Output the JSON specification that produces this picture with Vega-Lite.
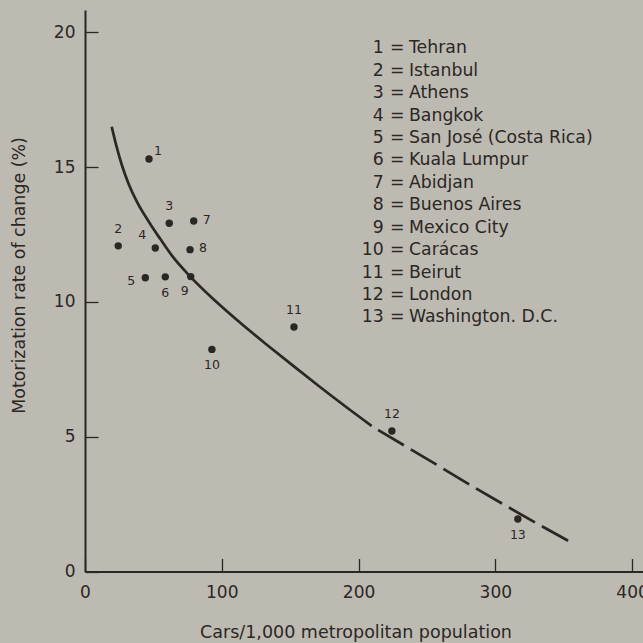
{
  "$schema": "https://vega.github.io/schema/vega-lite/v6.json",
  "width": 558,
  "height": 561.5,
  "autosize": {"type": "none"},
  "padding": {"left": 85, "top": 10, "right": 0, "bottom": 71.5},
  "background": "#bdbab2",
  "config": {
    "view": {"stroke": null},
    "font": "DejaVu Sans",
    "text": {"font": "DejaVu Sans", "color": "#2b2724"}
  },
  "datasets": {
    "cities": [
      {"id": 1, "city": "Tehran", "cars": 46.8, "rate": 15.3},
      {"id": 2, "city": "Istanbul", "cars": 24.3, "rate": 12.08},
      {"id": 3, "city": "Athens", "cars": 61.6, "rate": 12.92},
      {"id": 4, "city": "Bangkok", "cars": 51.4, "rate": 12.0},
      {"id": 5, "city": "San José (Costa Rica)", "cars": 44.1, "rate": 10.9},
      {"id": 6, "city": "Kuala Lumpur", "cars": 58.7, "rate": 10.93},
      {"id": 7, "city": "Abidjan", "cars": 79.5, "rate": 13.0},
      {"id": 8, "city": "Buenos Aires", "cars": 76.8, "rate": 11.94},
      {"id": 9, "city": "Mexico City", "cars": 77.3, "rate": 10.94},
      {"id": 10, "city": "Carácas", "cars": 92.8, "rate": 8.24},
      {"id": 11, "city": "Beirut", "cars": 152.8, "rate": 9.07},
      {"id": 12, "city": "London", "cars": 224.4, "rate": 5.21},
      {"id": 13, "city": "Washington. D.C.", "cars": 316.5, "rate": 1.95}
    ],
    "trend_fitted": [
      {"cars": 19.5, "rate": 16.5},
      {"cars": 23, "rate": 15.78},
      {"cars": 27, "rate": 15.07},
      {"cars": 32, "rate": 14.37},
      {"cars": 38, "rate": 13.71},
      {"cars": 47, "rate": 12.95},
      {"cars": 55, "rate": 12.34},
      {"cars": 64, "rate": 11.69},
      {"cars": 77, "rate": 10.94},
      {"cars": 95, "rate": 10.05},
      {"cars": 115, "rate": 9.16},
      {"cars": 135, "rate": 8.33},
      {"cars": 153, "rate": 7.6},
      {"cars": 170, "rate": 6.92},
      {"cars": 190, "rate": 6.14},
      {"cars": 209.6, "rate": 5.4}
    ],
    "trend_extrapolated": [
      {"cars": 214.3, "rate": 5.25},
      {"cars": 257.1, "rate": 3.96},
      {"cars": 288.7, "rate": 3.0},
      {"cars": 330.2, "rate": 1.79},
      {"cars": 354.3, "rate": 1.11}
    ]
  },
  "resolve": {"scale": {"y": "independent"}},
  "layer": [
    {
      "layer": [
        {
          "data": {"name": "trend_fitted"},
          "mark": {"type": "line", "interpolate": "monotone", "color": "#2b2724", "strokeWidth": 2.7},
          "encoding": {
            "x": {
              "field": "cars", "type": "quantitative",
              "scale": {"domain": [0, 408], "nice": false, "zero": false},
              "axis": {
                "title": "Cars/1,000 metropolitan population",
                "values": [0, 100, 200, 300, 400],
                "grid": false,
                "domainColor": "#2b2724", "domainWidth": 2,
                "tickColor": "#2b2724", "tickWidth": 1.3, "tickSize": -13,
                "labelFont": "DejaVu Sans", "labelFontSize": 17, "labelColor": "#2b2724",
                "labelPadding": 26, "labelFlush": false, "labelOverlap": false, "labelBound": false,
                "titleFont": "DejaVu Sans", "titleFontSize": 17.5, "titleFontWeight": "normal",
                "titleColor": "#2b2724", "titleX": 270.5, "titleY": 61, "titleBaseline": "middle", "titleAlign": "center"
              }
            },
            "y": {
              "field": "rate", "type": "quantitative",
              "scale": {"domain": [0, 20.83], "nice": false, "zero": false},
              "axis": {
                "title": "Motorization rate of change (%)",
                "values": [0, 5, 10, 15, 20],
                "grid": false,
                "domainColor": "#2b2724", "domainWidth": 2,
                "tickColor": "#2b2724", "tickWidth": 1.3, "tickSize": -13,
                "labelFont": "DejaVu Sans", "labelFontSize": 17, "labelColor": "#2b2724",
                "labelPadding": 23, "labelFlush": false, "labelOverlap": false, "labelBound": false,
                "titleFont": "DejaVu Sans", "titleFontSize": 17.4, "titleFontWeight": "normal",
                "titleColor": "#2b2724", "titleX": -66, "titleY": 265, "titleBaseline": "middle", "titleAlign": "center"
              }
            }
          }
        },
        {
          "data": {"name": "trend_extrapolated"},
          "mark": {"type": "line", "interpolate": "monotone", "color": "#2b2724", "strokeWidth": 2.7, "strokeDash": [30, 8]},
          "encoding": {
            "x": {"field": "cars", "type": "quantitative"},
            "y": {"field": "rate", "type": "quantitative"}
          }
        },
        {
          "data": {"name": "cities"},
          "mark": {"type": "circle", "size": 55, "color": "#2b2724", "opacity": 1},
          "encoding": {
            "x": {"field": "cars", "type": "quantitative"},
            "y": {"field": "rate", "type": "quantitative"}
          }
        },
        {
          "data": {"name": "cities"},
          "transform": [{"filter": {"field": "id", "oneOf": [2, 3, 11, 12]}}],
          "mark": {"type": "text", "fontSize": 12.5, "dy": -17, "baseline": "middle", "align": "center"},
          "encoding": {
            "x": {"field": "cars", "type": "quantitative"},
            "y": {"field": "rate", "type": "quantitative"},
            "text": {"field": "id"}
          }
        },
        {
          "data": {"name": "cities"},
          "transform": [{"filter": {"field": "id", "oneOf": [6, 10, 13]}}],
          "mark": {"type": "text", "fontSize": 12.5, "dy": 16, "baseline": "middle", "align": "center"},
          "encoding": {
            "x": {"field": "cars", "type": "quantitative"},
            "y": {"field": "rate", "type": "quantitative"},
            "text": {"field": "id"}
          }
        },
        {
          "data": {"name": "cities"},
          "transform": [{"filter": {"field": "id", "oneOf": [9]}}],
          "mark": {"type": "text", "fontSize": 12.5, "dx": -6, "dy": 14, "baseline": "middle", "align": "center"},
          "encoding": {
            "x": {"field": "cars", "type": "quantitative"},
            "y": {"field": "rate", "type": "quantitative"},
            "text": {"field": "id"}
          }
        },
        {
          "data": {"name": "cities"},
          "transform": [{"filter": {"field": "id", "oneOf": [1]}}],
          "mark": {"type": "text", "fontSize": 12.5, "dx": 9, "dy": -8, "baseline": "middle", "align": "center"},
          "encoding": {
            "x": {"field": "cars", "type": "quantitative"},
            "y": {"field": "rate", "type": "quantitative"},
            "text": {"field": "id"}
          }
        },
        {
          "data": {"name": "cities"},
          "transform": [{"filter": {"field": "id", "oneOf": [7, 8]}}],
          "mark": {"type": "text", "fontSize": 12.5, "dx": 13, "dy": -1.5, "baseline": "middle", "align": "center"},
          "encoding": {
            "x": {"field": "cars", "type": "quantitative"},
            "y": {"field": "rate", "type": "quantitative"},
            "text": {"field": "id"}
          }
        },
        {
          "data": {"name": "cities"},
          "transform": [{"filter": {"field": "id", "oneOf": [5]}}],
          "mark": {"type": "text", "fontSize": 12.5, "dx": -14, "dy": 3, "baseline": "middle", "align": "center"},
          "encoding": {
            "x": {"field": "cars", "type": "quantitative"},
            "y": {"field": "rate", "type": "quantitative"},
            "text": {"field": "id"}
          }
        },
        {
          "data": {"name": "cities"},
          "transform": [{"filter": {"field": "id", "oneOf": [4]}}],
          "mark": {"type": "text", "fontSize": 12.5, "dx": -13, "dy": -13, "baseline": "middle", "align": "center"},
          "encoding": {
            "x": {"field": "cars", "type": "quantitative"},
            "y": {"field": "rate", "type": "quantitative"},
            "text": {"field": "id"}
          }
        }
      ]
    },
    {
      "data": {"name": "cities"},
      "layer": [
        {
          "mark": {"type": "text", "fontSize": 17.3, "align": "right", "baseline": "middle"},
          "encoding": {
            "x": {"datum": 218.4, "type": "quantitative"},
            "y": {"field": "id", "type": "quantitative", "scale": {"domain": [-0.708, 24.331], "reverse": true, "nice": false, "zero": false}, "axis": null},
            "text": {"field": "id"}
          }
        },
        {
          "mark": {"type": "text", "fontSize": 17.3, "align": "center", "baseline": "middle"},
          "encoding": {
            "x": {"datum": 228.3, "type": "quantitative"},
            "y": {"field": "id", "type": "quantitative"},
            "text": {"value": "="}
          }
        },
        {
          "mark": {"type": "text", "fontSize": 17.3, "align": "left", "baseline": "middle"},
          "encoding": {
            "x": {"datum": 236.9, "type": "quantitative"},
            "y": {"field": "id", "type": "quantitative"},
            "text": {"field": "city"}
          }
        }
      ]
    }
  ]
}
